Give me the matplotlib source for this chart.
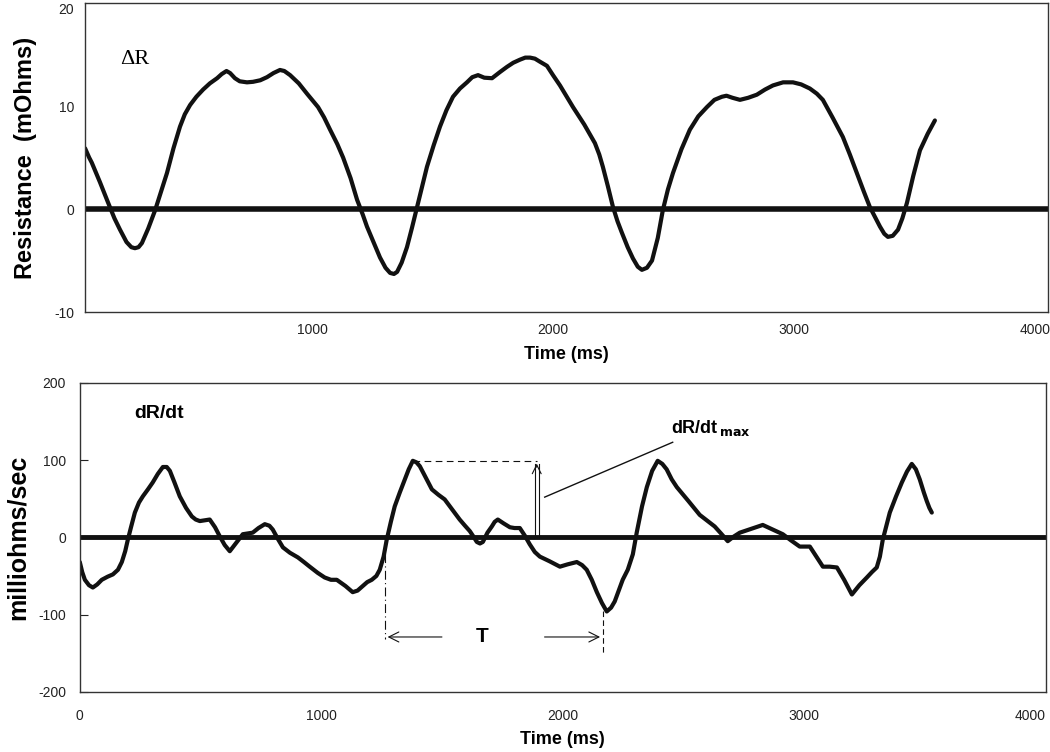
import matplotlib
matplotlib.use("Agg")
import matplotlib.pyplot as plt

plt.rcParams['font.family'] = ['Liberation Sans', 'DejaVu Sans']
plt.rcParams['axes.unicode_minus'] = False

# --- top panel: resistance change (mOhms) vs time (ms)
t_top = [58, 75, 86, 120, 154, 180, 203, 230, 250, 265, 280, 294, 320, 349,
         375, 398, 425, 452, 472, 494, 520, 548, 576, 606, 625, 645, 660,
         680, 700, 730, 755, 785, 813, 840, 867, 885, 909, 945, 979, 1025,
         1050, 1075, 1105, 1129, 1160, 1187, 1210, 1228, 1255, 1282, 1305,
         1324, 1340, 1353, 1372, 1394, 1415, 1436, 1457, 1477, 1505, 1531,
         1558, 1585, 1614, 1643, 1665, 1689, 1715, 1747, 1780, 1809, 1835,
         1863, 1885, 1905, 1925, 1946, 1975, 2000, 2029, 2083, 2130, 2174,
         2192, 2207, 2228, 2249, 2268, 2286, 2310, 2332, 2352, 2369, 2390,
         2411, 2435, 2456, 2477, 2498, 2533, 2568, 2603, 2639, 2670, 2701,
         2720, 2745, 2776, 2810, 2846, 2880, 2913, 2955, 2996, 3030, 3066,
         3095, 3120, 3160, 3203, 3232, 3261, 3290, 3315, 3337, 3357, 3375,
         3390, 3410, 3432, 3450, 3469, 3495, 3523, 3555, 3585]
r_top = [5.9, 5.0, 4.5, 2.6, 0.6, -0.9, -2.0, -3.2, -3.7, -3.8, -3.7, -3.3,
         -1.9, -0.1, 1.8, 3.5, 5.9, 8.0, 9.2, 10.1, 10.9, 11.6, 12.2, 12.7,
         13.1, 13.4, 13.2, 12.7, 12.4, 12.3, 12.35, 12.5, 12.8, 13.2, 13.5,
         13.4, 13.0, 12.2, 11.2, 9.9, 8.9, 7.7, 6.3, 5.0, 3.0, 0.9, -0.5,
         -1.7, -3.2, -4.7, -5.7, -6.2, -6.3, -6.1, -5.2, -3.7, -1.8, 0.2, 2.2,
         4.1, 6.2, 8.0, 9.6, 10.9, 11.7, 12.3, 12.8, 13.0, 12.75, 12.7, 13.3,
         13.8, 14.2, 14.5, 14.7, 14.7, 14.6, 14.3, 13.9, 13.0, 12.0, 9.9,
         8.2, 6.4, 5.3, 4.1, 2.2, 0.2, -1.2, -2.3, -3.7, -4.8, -5.6, -5.9,
         -5.7, -5.0, -2.8, -0.1, 1.9, 3.5, 5.8, 7.7, 9.0, 9.9, 10.6, 10.9,
         11.0, 10.8, 10.6, 10.8, 11.1, 11.6, 12.0, 12.3, 12.3, 12.1, 11.7,
         11.2, 10.6, 8.9, 7.0, 5.3, 3.5, 1.7, 0.2, -0.8, -1.7, -2.4, -2.7,
         -2.6, -2.0, -0.9, 0.6, 3.2, 5.7, 7.3, 8.6]

# --- bottom panel: dR/dt (milliohms/sec) vs time (ms)
t_bot = [0, 10, 21, 38, 54, 72, 91, 115, 137, 158, 174, 188, 199, 212, 228,
         245, 261, 282, 302, 323, 344, 360, 373, 392, 414, 440, 464, 480, 497,
         518, 538, 560, 580, 600, 621, 648, 675, 696, 716, 740, 766, 785, 799,
         820, 841, 870, 903, 928, 952, 985, 1014, 1040, 1064, 1100, 1130, 1150,
         1168, 1190, 1209, 1228, 1242, 1258, 1271, 1288, 1304, 1325, 1346,
         1362, 1379, 1394, 1408, 1433, 1458, 1485, 1511, 1542, 1573, 1595,
         1615, 1632, 1644, 1657, 1669, 1688, 1706, 1718, 1731, 1755, 1781,
         1800, 1822, 1843, 1863, 1884, 1905, 1945, 1988, 2020, 2058, 2080,
         2099, 2120, 2141, 2162, 2182, 2200, 2215, 2248, 2269, 2290, 2306,
         2328, 2348, 2370, 2393, 2412, 2430, 2451, 2472, 2520, 2567, 2600,
         2629, 2655, 2683, 2708, 2733, 2780, 2828, 2870, 2911, 2945, 2981,
         3023, 3050, 3077, 3105, 3135, 3165, 3197, 3228, 3259, 3280, 3300,
         3313, 3325, 3340, 3354, 3380, 3404, 3425, 3445, 3462, 3478, 3495,
         3507, 3518, 3528]
d_bot = [-32, -45, -55, -62, -65, -61, -55, -51, -48, -42, -32, -18, -3, 13,
         32, 45, 53, 62, 71, 82, 91, 91, 86, 71, 53, 38, 27, 23, 21, 22, 23,
         13, 1, -10, -18, -7, 4, 5, 6, 12, 17, 15, 10, -2, -13, -20, -26, -32,
         -38, -46, -52, -55, -55, -63, -71, -69, -64, -58, -55, -50, -42, -25,
         -3, 20, 40, 58, 75, 88, 99, 97, 92, 77, 62, 55, 49, 36, 23, 15, 8, 0,
         -6, -8, -6, 6, 14, 20, 23, 18, 13, 12, 12, 2, -9, -19, -25, -31, -38,
         -35, -32, -36, -42, -55, -71, -85, -96, -91, -83, -55, -42, -22, 6,
         40, 65, 86, 99, 95, 88, 75, 65, 47, 29, 21, 14, 5, -5, 1, 6, 11, 16,
         10, 4, -4, -12, -12, -25, -38, -38, -39, -55, -74, -62, -52, -45,
         -39, -25, -3, 15, 32, 53, 71, 85, 95, 88, 75, 58, 47, 38, 32]

# annotation values
peak_t, peak_v = 1379, 99
arrow_t = 1892
period_start, period_end = 1263, 2166
t_label_y = -129

fig = plt.figure(figsize=(10.5, 7.52), dpi=100)
ink = '#111111'

# top plot
ax1 = fig.add_axes([0.081, 0.585, 0.917, 0.411])
ax1.plot(t_top, r_top, color=ink, lw=3.0, solid_capstyle='round',
         solid_joinstyle='round')
ax1.axhline(0, color=ink, lw=4.0)
ax1.set_xlim(58, 4054)
ax1.set_ylim(-10, 20)
ax1.set_xticks([1000, 2000, 3000, 4000])
ax1.set_yticks([-10, 0, 10, 20])
ax1.tick_params(length=0, labelsize=10, colors='#222222', pad=8)
ax1.get_yticklabels()[-1].set_verticalalignment('top')
ax1.set_xlabel('Time (ms)', fontsize=13, fontweight='bold', labelpad=6)
ax1.set_ylabel('Resistance  (mOhms)', fontsize=17, fontweight='bold', labelpad=12)
ax1.text(263, 14.5, 'ΔR', fontsize=16, family='Liberation Serif',
         ha='center', va='center')
for s in ax1.spines.values():
    s.set_linewidth(1.0)
    s.set_color('#333333')

# bottom plot
ax2 = fig.add_axes([0.076, 0.080, 0.920, 0.411])
ax2.plot(t_bot, d_bot, color=ink, lw=3.0, solid_capstyle='round',
         solid_joinstyle='round')
ax2.axhline(0, color=ink, lw=3.5)
ax2.set_xlim(0, 4000)
ax2.set_ylim(-200, 200)
ax2.set_xticks([0, 1000, 2000, 3000, 4000])
ax2.set_yticks([-200, -100, 0, 100, 200])
ax2.tick_params(axis='x', length=0, labelsize=10, colors='#222222', pad=12)
ax2.tick_params(axis='y', direction='in', length=6, labelsize=10,
                colors='#222222', pad=10)
ax2.get_xticklabels()[-1].set_horizontalalignment('right')
ax2.set_xlabel('Time (ms)', fontsize=13, fontweight='bold', labelpad=6)
ax2.set_ylabel('milliohms/sec', fontsize=18, fontweight='bold', labelpad=6)
ax2.text(330, 160, 'dR/dt', fontsize=14, fontweight='bold',
         ha='center', va='center')
for s in ax2.spines.values():
    s.set_linewidth(1.0)
    s.set_color('#333333')

# dR/dt max marker
ax2.plot([peak_t, arrow_t], [peak_v, peak_v], color=ink, lw=0.8,
         ls=(0, (6, 4)))
ax2.plot([arrow_t - 8, arrow_t - 8], [0, peak_v - 4], color=ink, lw=0.8)
ax2.plot([arrow_t + 8, arrow_t + 8], [0, peak_v - 4], color=ink, lw=0.8)
ax2.annotate('', xy=(arrow_t, peak_v), xytext=(arrow_t, peak_v - 12),
             arrowprops=dict(arrowstyle='->', color=ink, lw=0.8,
                             mutation_scale=16))
ax2.plot([1925, 2455], [52, 123], color=ink, lw=1.0)
ax2.text(2450, 142, r'dR/dt$_{\,\mathbf{max}}$', fontsize=13,
         fontweight='bold', ha='left', va='center')

# period T marker
ax2.plot([period_start, period_start], [0, t_label_y - 3], color=ink,
         lw=0.8, ls=(0, (8, 3, 1, 3)))
ax2.plot([period_end, period_end], [-96, -152], color=ink, lw=0.8,
         ls=(0, (5, 3)))
ax2.annotate('', xy=(period_start, t_label_y), xytext=(1511, t_label_y),
             arrowprops=dict(arrowstyle='->', color=ink, lw=0.8,
                             mutation_scale=18))
ax2.annotate('', xy=(period_end, t_label_y), xytext=(1913, t_label_y),
             arrowprops=dict(arrowstyle='->', color=ink, lw=0.8,
                             mutation_scale=18))
ax2.text(1668, t_label_y, 'T', fontsize=15, fontweight='bold',
         ha='center', va='center')

fig.savefig('out.png', dpi=100)
